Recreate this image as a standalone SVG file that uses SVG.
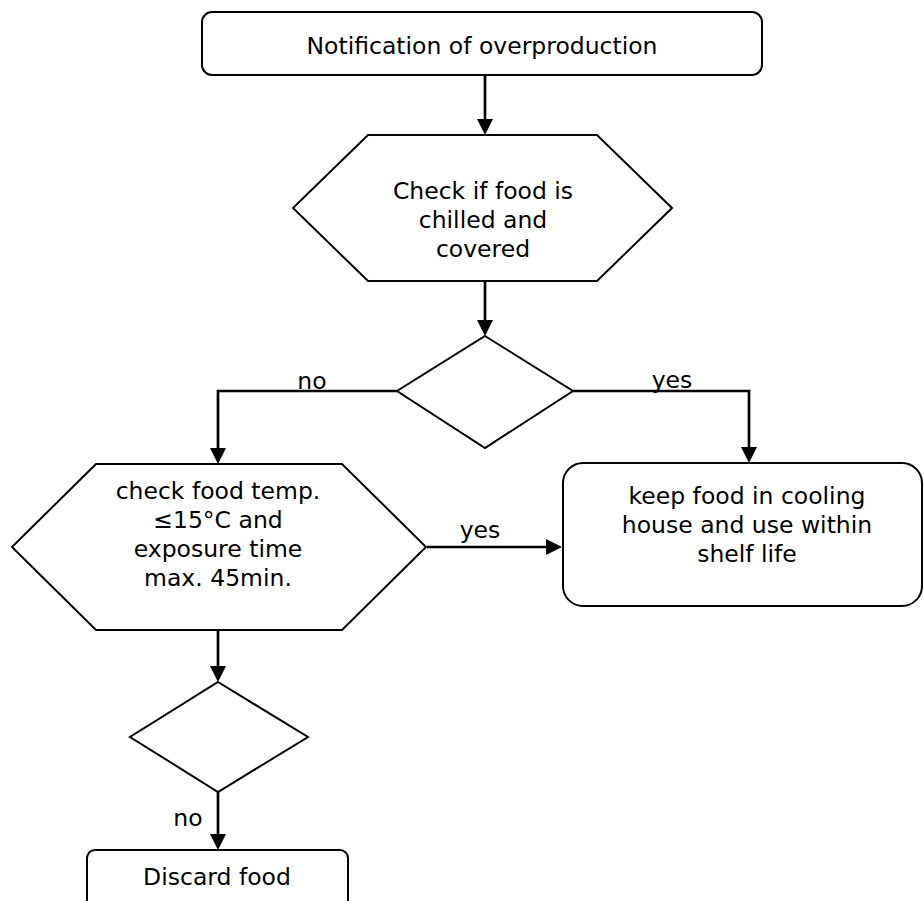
<svg xmlns="http://www.w3.org/2000/svg" width="924" height="901" viewBox="0 0 924 901">
  <style>
    .shape { fill: #ffffff; stroke: #000000; stroke-width: 2; }
    .conn { fill: none; stroke: #000000; stroke-width: 2.7; marker-end: url(#arrow); }
    .t { font-family: "DejaVu Sans", Verdana, sans-serif; font-size: 23.5px; fill: #000000; text-anchor: middle; }
  </style>
  <defs>
    <marker id="arrow" markerUnits="userSpaceOnUse" markerWidth="17" markerHeight="17" refX="8" refY="8" orient="auto">
      <path d="M0,0 L16,8 L0,16 Z" fill="#000000"/>
    </marker>
  </defs>
  <rect width="924" height="901" fill="#ffffff"/>

  <g id="connectors">
    <path class="conn" d="M485,75 V127"/>
    <path class="conn" d="M485,281 V328"/>
    <path class="conn" d="M397,391 H218 V456"/>
    <path class="conn" d="M573,391 H749 V455"/>
    <path class="conn" d="M427,547 H554"/>
    <path class="conn" d="M218,630 V674"/>
    <path class="conn" d="M218,792 V842"/>
    <text class="t" x="312" y="389">no</text>
    <text class="t" x="672" y="388">yes</text>
    <text class="t" x="480" y="538">yes</text>
    <text class="t" x="188" y="826">no</text>
  </g>

  <g id="notification">
    <rect class="shape" x="202" y="12" width="560" height="63" rx="10"/>
    <text class="t" x="482" y="54">Notification of overproduction</text>
  </g>

  <g id="check-chilled">
    <polygon class="shape" points="293,208 368,135 597,135 672,208 597,281 368,281"/>
    <text class="t" x="483" y="199">Check if food is</text>
    <text class="t" x="483" y="228">chilled and</text>
    <text class="t" x="483" y="257">covered</text>
  </g>

  <g id="decision-1">
    <polygon class="shape" points="485,336 573,391 485,448 397,391"/>
  </g>

  <g id="check-temp">
    <polygon class="shape" points="12,547 96,464 342,464 426,547 342,630 96,630"/>
    <text class="t" x="218" y="499">check food temp.</text>
    <text class="t" x="218" y="528">≤15°C and</text>
    <text class="t" x="218" y="557">exposure time</text>
    <text class="t" x="218" y="586">max. 45min.</text>
  </g>

  <g id="keep-food">
    <rect class="shape" x="563" y="463" width="359" height="143" rx="20"/>
    <text class="t" x="747" y="504">keep food in cooling</text>
    <text class="t" x="747" y="533">house and use within</text>
    <text class="t" x="747" y="562">shelf life</text>
  </g>

  <g id="decision-2">
    <polygon class="shape" points="218,682 308,737 218,792 130,737"/>
  </g>

  <g id="discard">
    <rect class="shape" x="87" y="850" width="261" height="80" rx="8"/>
    <text class="t" x="217" y="885">Discard food</text>
  </g>
</svg>
